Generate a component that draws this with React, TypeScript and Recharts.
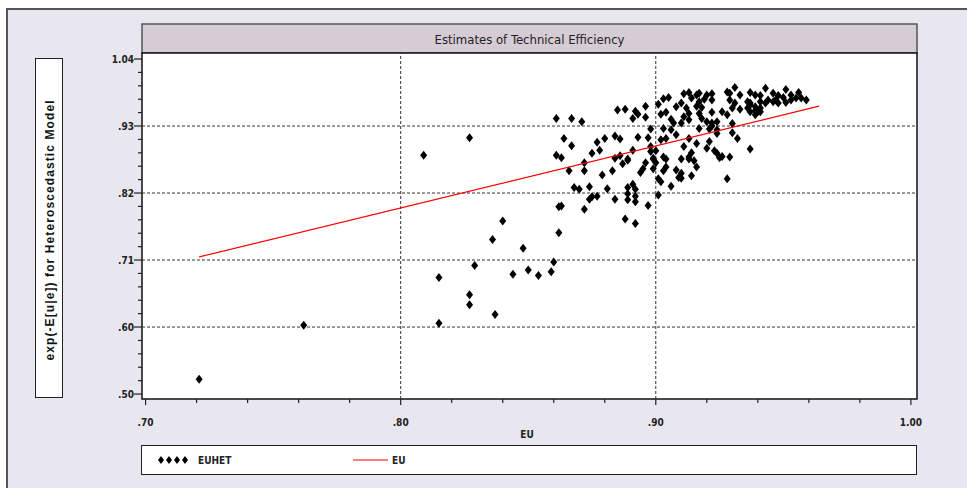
import React from "react";
import { ScatterChart, Scatter, XAxis, YAxis, ReferenceLine } from "recharts";

// EU (x) and EUHET (y), one pair per point
const eu = [
  0.721, 0.762, 0.809, 0.827, 0.815, 0.815, 0.827, 0.827, 0.829, 0.836, 0.837, 0.840, 0.844, 0.848,
  0.850, 0.854, 0.859, 0.860, 0.862, 0.862, 0.863, 0.868, 0.870, 0.872, 0.874, 0.874, 0.875, 0.877,
  0.861, 0.867, 0.871, 0.885, 0.888, 0.892, 0.893, 0.891, 0.896, 0.896, 0.901, 0.903, 0.905, 0.902,
  0.904, 0.906, 0.907, 0.908, 0.898, 0.903, 0.906, 0.864, 0.867, 0.877, 0.880, 0.884, 0.886, 0.893,
  0.897, 0.898, 0.898, 0.900, 0.902, 0.904, 0.908, 0.861, 0.863, 0.875, 0.878, 0.891, 0.886, 0.889,
  0.899, 0.903, 0.866, 0.872, 0.872, 0.879, 0.883, 0.884, 0.887, 0.889, 0.896, 0.899, 0.900, 0.904,
  0.904, 0.903, 0.899, 0.895, 0.894, 0.908, 0.909, 0.901, 0.902, 0.906, 0.881, 0.889, 0.891, 0.892,
  0.889, 0.889, 0.892, 0.892, 0.884, 0.897, 0.901, 0.888, 0.892, 0.911, 0.913, 0.916, 0.917, 0.920,
  0.922, 0.928, 0.929, 0.931, 0.933, 0.937, 0.939, 0.941, 0.943, 0.946, 0.948, 0.951, 0.953, 0.956,
  0.959, 0.910, 0.914, 0.917, 0.919, 0.922, 0.916, 0.918, 0.912, 0.913, 0.917, 0.922, 0.929, 0.931,
  0.930, 0.933, 0.936, 0.937, 0.941, 0.944, 0.947, 0.950, 0.936, 0.937, 0.940, 0.939, 0.926, 0.928,
  0.911, 0.913, 0.910, 0.918, 0.920, 0.922, 0.924, 0.930, 0.917, 0.921, 0.922, 0.924, 0.924, 0.930,
  0.913, 0.932, 0.921, 0.916, 0.911, 0.920, 0.923, 0.914, 0.924, 0.926, 0.929, 0.937, 0.913, 0.910,
  0.913, 0.915, 0.916, 0.910, 0.910, 0.914, 0.925, 0.928, 0.937, 0.939, 0.939, 0.941, 0.941, 0.943,
  0.946, 0.948, 0.951, 0.953, 0.955, 0.957,
];
const euhet = [
  0.524, 0.611, 0.885, 0.913, 0.688, 0.614, 0.660, 0.644, 0.707, 0.749, 0.628, 0.779, 0.693, 0.735,
  0.700, 0.691, 0.697, 0.713, 0.760, 0.802, 0.803, 0.833, 0.830, 0.798, 0.834, 0.814, 0.818, 0.819,
  0.944, 0.944, 0.939, 0.958, 0.959, 0.956, 0.951, 0.944, 0.964, 0.946, 0.967, 0.976, 0.978, 0.951,
  0.954, 0.943, 0.937, 0.963, 0.927, 0.928, 0.926, 0.912, 0.900, 0.906, 0.912, 0.916, 0.911, 0.914,
  0.913, 0.899, 0.891, 0.892, 0.910, 0.912, 0.918, 0.885, 0.881, 0.888, 0.893, 0.893, 0.884, 0.879,
  0.880, 0.882, 0.860, 0.873, 0.860, 0.853, 0.860, 0.880, 0.871, 0.877, 0.873, 0.879, 0.873, 0.879,
  0.866, 0.860, 0.863, 0.863, 0.857, 0.861, 0.849, 0.847, 0.842, 0.835, 0.831, 0.833, 0.838, 0.830,
  0.823, 0.813, 0.819, 0.810, 0.814, 0.804, 0.821, 0.782, 0.775, 0.984, 0.986, 0.982, 0.985, 0.982,
  0.984, 0.987, 0.985, 0.994, 0.982, 0.986, 0.982, 0.981, 0.993, 0.985, 0.981, 0.991, 0.982, 0.986,
  0.974, 0.969, 0.977, 0.971, 0.975, 0.974, 0.964, 0.962, 0.961, 0.952, 0.952, 0.954, 0.974, 0.969,
  0.961, 0.959, 0.971, 0.969, 0.971, 0.974, 0.974, 0.978, 0.961, 0.955, 0.955, 0.950, 0.955, 0.950,
  0.947, 0.942, 0.937, 0.944, 0.939, 0.937, 0.939, 0.936, 0.928, 0.927, 0.932, 0.926, 0.920, 0.921,
  0.912, 0.912, 0.907, 0.904, 0.899, 0.896, 0.892, 0.889, 0.888, 0.883, 0.882, 0.895, 0.882, 0.879,
  0.879, 0.876, 0.866, 0.856, 0.848, 0.852, 0.881, 0.847, 0.966, 0.963, 0.957, 0.961, 0.955, 0.969,
  0.971, 0.969, 0.970, 0.974, 0.977, 0.977,
];

// the EU line is drawn against itself, from the smallest to the largest EU
const euLine = [0.721, 0.964];

const xMajorTicks = [0.7, 0.8, 0.9, 1.0];
const xTickLabels = [".70", ".80", ".90", "1.00"];
const yMajorTicks = [0.5, 0.608, 0.716, 0.824, 0.932, 1.04];
const yTickLabels = [".50", ".60", ".71", ".82", ".93", "1.04"];

const NARROW = "'Liberation Sans Narrow', 'Arial Narrow', 'DejaVu Sans Condensed', Arial, sans-serif";

const W = 967;
const H = 488;
const PLOT = { left: 142, top: 53, right: 917, bottom: 399 };
const AXIS = 30; // axis band size, kept inside the margins

const points = eu.map((x, i) => ({ x, y: euhet[i] }));
const linePoints = euLine.map((v) => ({ x: v, y: v }));

// 4 minor ticks between majors on both axes
const subdivide = (majors: number[], n: number) => {
  const out: number[] = [];
  for (let i = 0; i < majors.length - 1; i++) {
    for (let k = 0; k < n; k++) out.push(majors[i] + ((majors[i + 1] - majors[i]) * k) / n);
  }
  out.push(majors[majors.length - 1]);
  return out;
};
const xTicks = subdivide(xMajorTicks, 5);
const yTicks = subdivide(yMajorTicks, 5);

const majorIndex = (majors: number[], v: number) => majors.findIndex((m) => Math.abs(m - v) < 1e-6);

function Diamond({ cx, cy, w = 3.5, h = 4.5 }: { cx?: number; cy?: number; w?: number; h?: number }) {
  if (cx == null || cy == null) return null;
  return <path d={`M${cx},${cy - h}L${cx + w},${cy}L${cx},${cy + h}L${cx - w},${cy}Z`} fill="#000" />;
}

function XTick(props: any) {
  const { x, y, payload } = props;
  const idx = majorIndex(xMajorTicks, payload.value);
  const major = idx >= 0;
  return (
    <g>
      <line x1={x} x2={x} y1={y} y2={y + (major ? 6 : 4)} stroke="#222" strokeWidth={1.2} />
      {major && (
        <text x={x} y={y + 27} textAnchor="middle" fontFamily={NARROW} fontWeight="bold" fontSize={10} fill="#222">
          {xTickLabels[idx]}
        </text>
      )}
    </g>
  );
}

function YTick(props: any) {
  const { x, y, payload } = props;
  const idx = majorIndex(yMajorTicks, payload.value);
  const major = idx >= 0;
  return (
    <g>
      <line x1={x - (major ? 8 : 4)} x2={x} y1={y} y2={y} stroke="#222" strokeWidth={1.2} />
      {major && (
        <text x={x - 8} y={y + 3.5} textAnchor="end" fontFamily={NARROW} fontWeight="bold" fontSize={10} fill="#222">
          {yTickLabels[idx]}
        </text>
      )}
    </g>
  );
}

function Frame() {
  const yLabelY = 230;
  return (
    <svg width={W} height={H} style={{ position: "absolute", left: 0, top: 0 }}>
      <rect x={0} y={0} width={W} height={H} fill="#fff" />
      <rect x={7} y={9} width={W + 20} height={H + 20} fill="#e8e6ee" stroke="#555" strokeWidth={2} />
      {/* title bar */}
      <rect x={PLOT.left} y={24} width={PLOT.right - PLOT.left} height={PLOT.top - 24} fill="#d6ccd5" stroke="#555" strokeWidth={1.5} />
      <text x={(PLOT.left + PLOT.right) / 2} y={43.5} textAnchor="middle" fontFamily={NARROW} fontSize={13} fill="#222">
        Estimates of Technical Efficiency
      </text>
      {/* plot box */}
      <rect x={PLOT.left} y={PLOT.top} width={PLOT.right - PLOT.left} height={PLOT.bottom - PLOT.top} fill="#fff" stroke="#111" strokeWidth={1.5} />
      {/* y axis title box */}
      <rect x={35.5} y={58.5} width={27} height={339} fill="#fff" stroke="#222" strokeWidth={1} />
      <text
        x={50}
        y={yLabelY}
        transform={`rotate(-90 50 ${yLabelY})`}
        textAnchor="middle"
        dominantBaseline="central"
        fontFamily="'Liberation Sans', Arial, sans-serif"
        fontWeight="bold"
        fontSize={12}
        letterSpacing={1.1}
        fill="#111"
      >
        exp(-E[u|e]) for Heteroscedastic Model
      </text>
      {/* x axis title */}
      <text x={527} y={438} textAnchor="middle" fontFamily={NARROW} fontWeight="bold" fontSize={10} fill="#222">
        EU
      </text>
      {/* legend */}
      <rect x={141.5} y={445.5} width={775} height={29} fill="#fff" stroke="#222" strokeWidth={1} />
      {[161, 169, 177, 185].map((cx) => (
        <Diamond key={cx} cx={cx} cy={460} w={3} h={4} />
      ))}
      <text x={198} y={463.5} fontFamily={NARROW} fontWeight="bold" fontSize={10} fill="#222">
        EUHET
      </text>
      <line x1={353} x2={388} y1={460} y2={460} stroke="#e00" strokeWidth={1.2} />
      <text x={392} y={463.5} fontFamily={NARROW} fontWeight="bold" fontSize={10} fill="#222">
        EU
      </text>
    </svg>
  );
}

export default function App() {
  return (
    <div style={{ position: "absolute", left: 0, top: 0, width: W, height: H, overflow: "hidden" }}>
      <Frame />
      <div style={{ position: "absolute", left: 0, top: 0 }}>
        <ScatterChart
          width={W}
          height={H}
          margin={{
            top: PLOT.top,
            left: PLOT.left - AXIS,
            right: W - PLOT.right,
            bottom: H - PLOT.bottom - AXIS,
          }}
        >
          <XAxis
            type="number"
            dataKey="x"
            domain={[0.6986, 1.0024]}
            ticks={xTicks}
            interval={0}
            height={AXIS}
            tickSize={0}
            tickMargin={0}
            axisLine={false}
            tickLine={false}
            tick={(p: any) => <XTick {...p} />}
            allowDataOverflow
          />
          <YAxis
            type="number"
            dataKey="y"
            domain={[0.492, 1.0497]}
            ticks={yTicks}
            interval={0}
            width={AXIS}
            tickSize={0}
            tickMargin={0}
            axisLine={false}
            tickLine={false}
            tick={(p: any) => <YTick {...p} />}
            allowDataOverflow
          />
          {yMajorTicks.slice(1, -1).map((v) => (
            <ReferenceLine key={v} y={v} stroke="#333" strokeDasharray="3 2" />
          ))}
          {xMajorTicks.slice(1, -1).map((v) => (
            <ReferenceLine key={v} x={v} stroke="#333" strokeDasharray="3 2" />
          ))}
          <Scatter data={points} shape={<Diamond />} isAnimationActive={false} />
          <Scatter
            data={linePoints}
            shape={() => <g />}
            line={{ stroke: "#f00", strokeWidth: 1.2 }}
            isAnimationActive={false}
          />
        </ScatterChart>
      </div>
    </div>
  );
}
